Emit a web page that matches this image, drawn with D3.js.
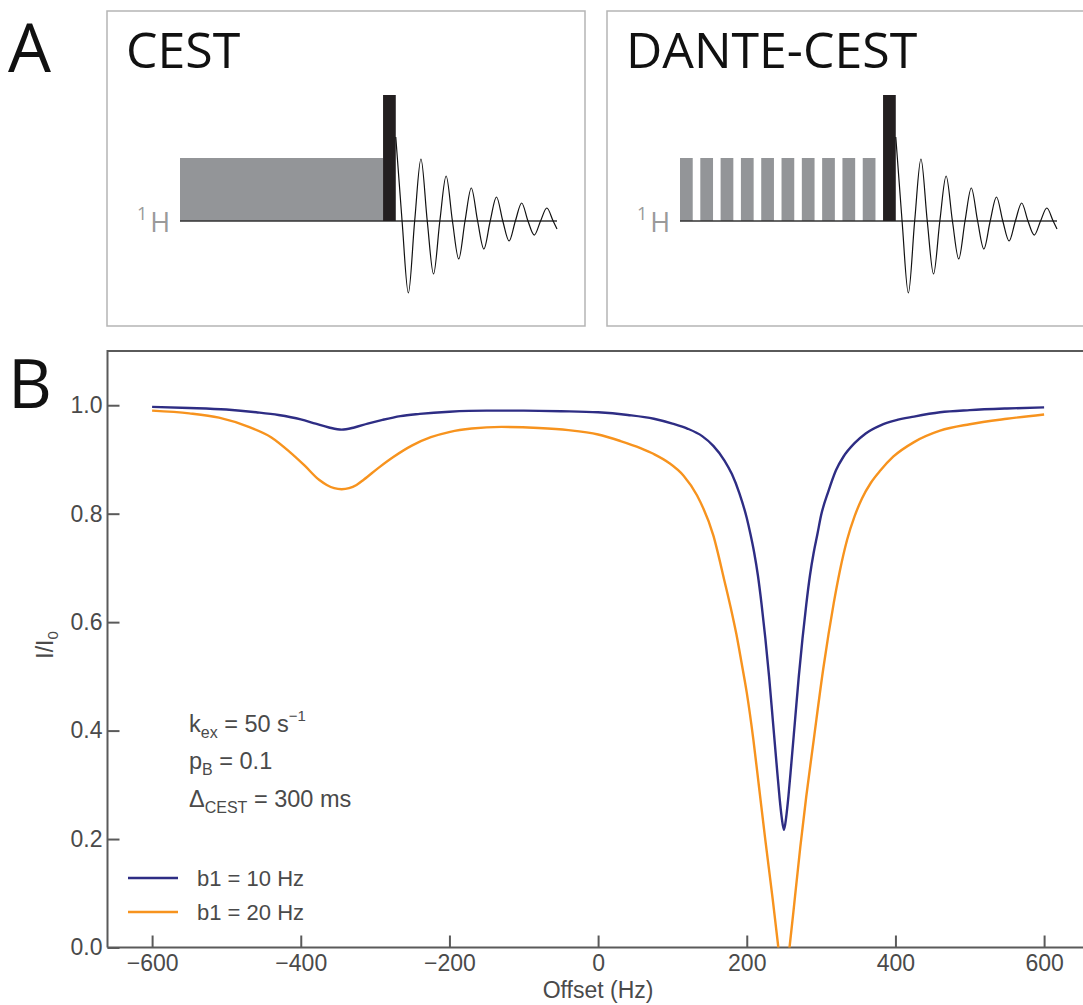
<!DOCTYPE html>
<html><head><meta charset="utf-8">
<script src="https://cdn.jsdelivr.net/npm/d3@7"></script>
<style>body{margin:0;background:#fff} svg{display:block}</style>
</head><body><svg id="c" width="1083" height="1005"></svg>
<script>
// ---------- data ----------
const xTicks = [-600, -400, -200, 0, 200, 400, 600];
const yTicks = [0, 0.2, 0.4, 0.6, 0.8, 1.0];
const seriesNames = ["b1 = 10 Hz", "b1 = 20 Hz"];

const blueOffsets = [-600,-550,-500,-460,-430,-400,-380,-362,-345,-328,-310,-290,-266,-240,-200,-150,-100,-50,0,40,75,100,120,140,155,170,180,190,200,205,210,215,220,225,230,235,240,244,247,250,253,256,260,265,270,275,280,285,290,295,300,310,320,330,345,360,380,400,425,460,500,550,600];
const blueValues  = [0.997,0.995,0.992,0.987,0.982,0.974,0.966,0.959,0.955,0.959,0.966,0.973,0.980,0.984,0.988,0.990,0.990,0.989,0.987,0.982,0.975,0.966,0.957,0.943,0.925,0.898,0.873,0.838,0.792,0.762,0.728,0.686,0.632,0.570,0.500,0.420,0.340,0.278,0.240,0.217,0.240,0.278,0.340,0.420,0.500,0.570,0.632,0.686,0.728,0.762,0.797,0.842,0.880,0.905,0.930,0.948,0.963,0.972,0.979,0.987,0.991,0.994,0.996];

const orangeOffsets = [-600,-550,-510,-470,-440,-415,-395,-375,-365,-355,-345,-335,-325,-315,-295,-275,-250,-225,-199,-170,-130,-80,-40,0,30,57,75,95,115,133,155,170,180,186,193,200,209,217,225,235,242.5,250,257.5,265,272,280,290,303,310,317,325,335,345,355,367,380,397,425,460,500,550,600];
const orangeValues  = [0.990,0.985,0.977,0.960,0.941,0.914,0.889,0.862,0.853,0.847,0.845,0.847,0.853,0.863,0.885,0.905,0.926,0.941,0.951,0.957,0.960,0.958,0.954,0.946,0.934,0.921,0.910,0.894,0.870,0.834,0.760,0.676,0.617,0.578,0.525,0.470,0.382,0.290,0.198,0.088,0.0,-0.08,0.0,0.095,0.185,0.278,0.382,0.515,0.578,0.635,0.693,0.752,0.795,0.828,0.857,0.880,0.905,0.932,0.953,0.965,0.975,0.983];

// pulse-sequence schematic (time units where saturation = 300 ms)
const satDuration = 300;
const hardPulse = [300, 318.8];
const dantePulseStarts = [0,30,60,90,120,150,180,210,240,270];
const dantePulseWidth = 18.8;
const satAmp = 0.75, hardAmp = 1.5;
const fidTime = [318.8,328.1,337.4,346.7,356,365.3,374.6,383.9,393.2,402.5,411.8,421.1,430.4,439.7,449,458.3,467.6,476.9,486.2,495.5,504.8,514.1,523.4,532.7,542,551.3,557];
const fidAmp  = [1.0,0,-0.857,0,0.738,0,-0.631,0,0.536,0,-0.452,0,0.393,0,-0.333,0,0.286,0,-0.238,0,0.214,0,-0.167,0,0.155,0,-0.095];

// ---------- drawing ----------
const svg = d3.select("#c");
const sans = "'Liberation Sans', Arial, Helvetica, sans-serif";
const myriad = "'Open Sans', 'Noto Sans', sans-serif";

// Panel labels
svg.append("text").attr("x", 8).attr("y", 72).attr("font-family", myriad)
  .attr("font-size", 68).attr("fill", "#111").text("A");
svg.append("text").attr("x", 8).attr("y", 408).attr("font-family", myriad)
  .attr("font-size", 68).attr("fill", "#111").text("B");

// Panel A
const seqX = d3.scaleLinear().domain([0, 557]).range([180, 557]);
const seqY = d3.scaleLinear().domain([0, 1]).range([221, 137]);
const panels = [{title: "CEST", dx: 0, dante: false}, {title: "DANTE-CEST", dx: 500, dante: true}];
panels.forEach(p => {
  const g = svg.append("g").attr("transform", `translate(${p.dx},0)`);
  g.append("rect").attr("x", 107).attr("y", 11).attr("width", 478).attr("height", 315)
    .attr("fill", "none").attr("stroke", "#b5b5b5").attr("stroke-width", 1.5);
  g.append("text").attr("x", 126).attr("y", 68).attr("font-family", myriad)
    .attr("font-size", 50).attr("fill", "#111").text(p.title);
  const lab = g.append("text").attr("x", 137).attr("y", 220).attr("font-family", myriad).attr("fill", "#9a9a9a");
  lab.append("tspan").attr("font-size", 18).text("1");
  lab.append("tspan").attr("font-size", 27).attr("dx", 3).attr("dy", 12).text("H");
  if (!p.dante) {
    g.append("rect").attr("x", seqX(0)).attr("y", seqY(satAmp))
      .attr("width", seqX(satDuration) - seqX(0)).attr("height", seqY(0) - seqY(satAmp))
      .attr("fill", "#939598");
  } else {
    g.selectAll("rect.d").data(dantePulseStarts).join("rect").attr("class", "d")
      .attr("x", d => seqX(d)).attr("y", seqY(satAmp))
      .attr("width", seqX(dantePulseWidth) - seqX(0)).attr("height", seqY(0) - seqY(satAmp))
      .attr("fill", "#939598");
  }
  g.append("line").attr("x1", seqX(0)).attr("x2", seqX(557)).attr("y1", seqY(0)).attr("y2", seqY(0))
    .attr("stroke", "#333").attr("stroke-width", 1.3);
  g.append("rect").attr("x", seqX(hardPulse[0])).attr("y", seqY(hardAmp))
    .attr("width", seqX(hardPulse[1]) - seqX(hardPulse[0])).attr("height", seqY(0) - seqY(hardAmp))
    .attr("fill", "#231f20");
  const fidLine = d3.line().x((d, i) => seqX(fidTime[i])).y(d => seqY(d)).curve(d3.curveMonotoneX);
  g.append("path").attr("d", fidLine(fidAmp)).attr("fill", "none")
    .attr("stroke", "#111").attr("stroke-width", 1.2);
});

// Panel B
const plotLeft = 107.5, plotTop = 351, plotBottom = 947.5;
const x = d3.scaleLinear().domain([-660, 660]).range([plotLeft, plotLeft + 981.2]);
const y = d3.scaleLinear().domain([0, 1.1]).range([plotBottom, plotTop]);
const axisCol = "#5a5a5a", textCol = "#4a4a4a";

svg.append("defs").append("clipPath").attr("id", "plot")
  .append("rect").attr("x", plotLeft).attr("y", plotTop).attr("width", 1083 - plotLeft).attr("height", plotBottom - plotTop);

const xAxis = svg.append("g").attr("transform", `translate(0,${plotBottom})`)
  .call(d3.axisBottom(x).tickValues(xTicks).tickSizeInner(-12).tickSizeOuter(0).tickPadding(7));
const yAxis = svg.append("g").attr("transform", `translate(${plotLeft},0)`)
  .call(d3.axisLeft(y).tickValues(yTicks).tickFormat(d3.format(".1f")).tickSizeInner(-12).tickSizeOuter(0).tickPadding(5));
[xAxis, yAxis].forEach(a => {
  a.select(".domain").remove();
  a.selectAll(".tick line").attr("stroke", axisCol).attr("stroke-width", 2);
  a.selectAll(".tick text").attr("font-family", sans).attr("font-size", 23).attr("fill", textCol);
});

// frame
svg.append("path").attr("d", `M${plotLeft},${plotBottom}V${plotTop}H1083M${plotLeft},${plotBottom}H1083`)
  .attr("fill", "none").attr("stroke", axisCol).attr("stroke-width", 2);

// curves
const blueCol = "#2e2d84", orangeCol = "#f7931e";
const line = d3.line().curve(d3.curveMonotoneX);
const plotG = svg.append("g").attr("clip-path", "url(#plot)");
plotG.append("path").attr("d", line(orangeOffsets.map((o, i) => [x(o), y(orangeValues[i])])))
  .attr("fill", "none").attr("stroke", orangeCol).attr("stroke-width", 2.4);
plotG.append("path").attr("d", line(blueOffsets.map((o, i) => [x(o), y(blueValues[i])])))
  .attr("fill", "none").attr("stroke", blueCol).attr("stroke-width", 2.4);

// axis titles
svg.append("text").attr("x", x(0)).attr("y", 998).attr("text-anchor", "middle")
  .attr("font-family", sans).attr("font-size", 23).attr("fill", textCol).text("Offset (Hz)");
const yl = svg.append("text").attr("transform", `translate(53,645) rotate(-90)`).attr("text-anchor", "middle")
  .attr("font-family", sans).attr("font-size", 23).attr("fill", textCol);
yl.append("tspan").text("I/I");
yl.append("tspan").attr("font-size", 15).attr("dy", 5).text("0");

// annotations
const ann = svg.append("g").attr("font-family", sans).attr("font-size", 23.5).attr("fill", textCol);
const t1 = ann.append("text").attr("x", 189).attr("y", 732);
t1.append("tspan").text("k");
t1.append("tspan").attr("font-size", 16).attr("dy", 6).text("ex");
t1.append("tspan").attr("dy", -6).text(" = 50 s");
t1.append("tspan").attr("font-size", 15).attr("dy", -11).text("−1");
const t2 = ann.append("text").attr("x", 189).attr("y", 769);
t2.append("tspan").text("p");
t2.append("tspan").attr("font-size", 16).attr("dy", 6).text("B");
t2.append("tspan").attr("dy", -6).text(" = 0.1");
const t3 = ann.append("text").attr("x", 189).attr("y", 807);
t3.append("tspan").text("Δ");
t3.append("tspan").attr("font-size", 16).attr("dy", 6).text("CEST");
t3.append("tspan").attr("dy", -6).text(" = 300 ms");

// legend
const legY = [878, 912];
const legCols = [blueCol, orangeCol];
seriesNames.forEach((n, i) => {
  svg.append("line").attr("x1", 128).attr("x2", 178).attr("y1", legY[i]).attr("y2", legY[i])
    .attr("stroke", legCols[i]).attr("stroke-width", 2.4);
  svg.append("text").attr("x", 197).attr("y", legY[i] + 8).attr("font-family", sans)
    .attr("font-size", 22).attr("fill", textCol).text(n);
});
</script></body></html>
